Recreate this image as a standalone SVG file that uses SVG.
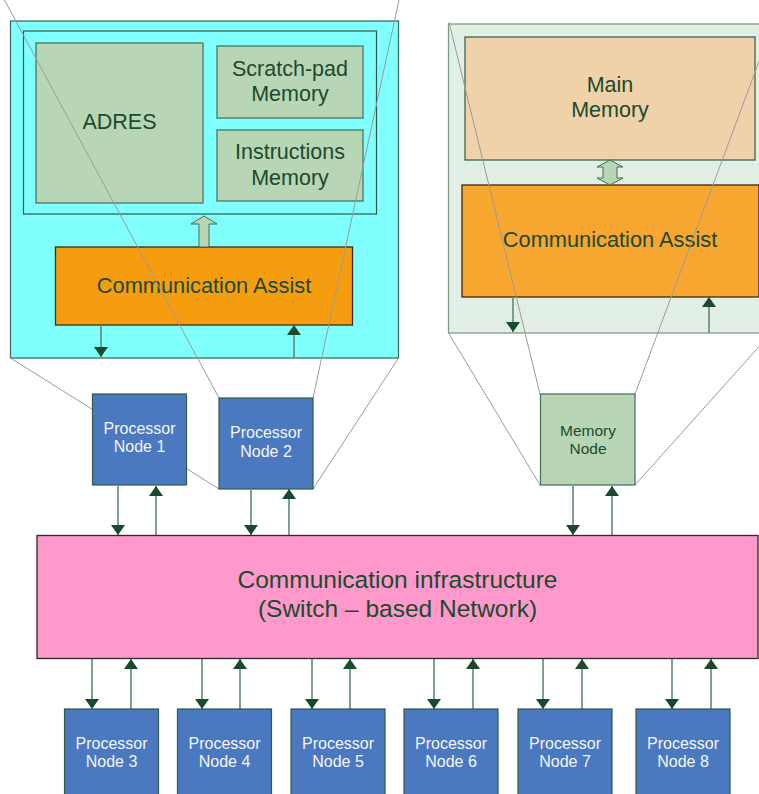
<svg xmlns="http://www.w3.org/2000/svg" width="759" height="794" viewBox="0 0 759 794">
<style>
text{font-family:"Liberation Sans",Arial,sans-serif;text-anchor:middle;fill:#1b4a2c}
.w{fill:#f4f6fb;font-size:16px}
.m{font-size:21.5px}
.g{fill:#b8d6b6;stroke:#3d6e55;stroke-width:1.2}
.p{fill:#4a79c0;stroke:#2f5a45;stroke-width:1.2}
.ca{stroke:#3a2a10;stroke-width:1.3}
.proj{stroke:#9a9a9a;stroke-width:1;fill:none}
.sh{stroke:#5f8a73;stroke-width:1.6}
</style>
<defs>
<marker id="ah" viewBox="0 0 10 14" refX="10" refY="7" markerWidth="10" markerHeight="14" markerUnits="userSpaceOnUse" orient="auto">
<path d="M0,0 L10,7 L0,14 Z" fill="#1a4a2c"/>
</marker>
<pattern id="grid" width="4" height="4" patternUnits="userSpaceOnUse">
<rect width="4" height="4" fill="#e4f0e6"/>
<path d="M0,0H4M0,0V4" stroke="#d6e6d8" stroke-width="0.6"/>
</pattern>
</defs>

<g id="processor-zoom">
<rect x="10.5" y="21" width="388" height="337" fill="#80ffff" stroke="#3d6e62" stroke-width="1.3"/>
<rect x="23.5" y="31" width="353" height="183" fill="none" stroke="#2f5a45" stroke-width="1.2"/>
</g>
<g id="adres">
<rect class="g" x="36" y="43" width="167" height="160"/>
<text class="m" x="119.5" y="129">ADRES</text>
</g>
<g id="scratchpad">
<rect class="g" x="217" y="46" width="146" height="72"/>
<text class="m" x="290" y="76">Scratch-pad</text>
<text class="m" x="290" y="101">Memory</text>
</g>
<g id="instructions">
<rect class="g" x="217" y="130" width="146" height="71"/>
<text class="m" x="290" y="159">Instructions</text>
<text class="m" x="290" y="185">Memory</text>
</g>
<g id="comm-assist-1">
<rect class="ca" x="55.5" y="247" width="297" height="78" fill="#f59d0e"/>
<text x="204" y="293" font-size="21.8">Communication Assist</text>
</g>

<g id="memory-zoom">
<rect x="448.5" y="24" width="315" height="309" fill="url(#grid)" stroke="#7f9a88" stroke-width="1.3"/>
</g>
<g id="main-memory">
<rect x="465" y="37" width="290" height="123" fill="#efd2aa" stroke="#2f5a45" stroke-width="1.2"/>
<text class="m" x="610" y="92">Main</text>
<text class="m" x="610" y="117">Memory</text>
</g>
<g id="comm-assist-2">
<rect class="ca" x="462" y="185" width="297" height="112" fill="#f7a630"/>
<text x="610" y="247" font-size="21.8">Communication Assist</text>
</g>

<g id="connectors">
<path class="proj" d="M4.5,0 L219,398 M399,0 L313,398 M10.5,358 L219,489 M398.5,358 L313,489"/>
<path class="proj" d="M449,22 L540,394 M767,40 L635,394 M448.5,333 L540,485 M765,340 L635,485"/>
<path d="M199,247 V224 H191 L204,216 L217,224 H209 V247 Z" fill="#b8d6b6" stroke="#3d6e55" stroke-width="1"/>
<path d="M610,160 L623,167 H617 V178 H623 L610,185 L597,178 H603 V167 H597 Z" fill="#b8d6b6" stroke="#3d6e55" stroke-width="1"/>
<line class="sh" x1="101" y1="325" x2="101" y2="357" marker-end="url(#ah)"/>
<line class="sh" x1="294" y1="358" x2="294" y2="325" marker-end="url(#ah)"/>
<line class="sh" x1="513" y1="297" x2="513" y2="332" marker-end="url(#ah)"/>
<line class="sh" x1="709" y1="333" x2="709" y2="297" marker-end="url(#ah)"/>
<line class="sh" x1="118" y1="486" x2="118" y2="535" marker-end="url(#ah)"/>
<line class="sh" x1="156" y1="535" x2="156" y2="486" marker-end="url(#ah)"/>
<line class="sh" x1="251" y1="490" x2="251" y2="535" marker-end="url(#ah)"/>
<line class="sh" x1="289" y1="535" x2="289" y2="489" marker-end="url(#ah)"/>
<line class="sh" x1="573" y1="486" x2="573" y2="535" marker-end="url(#ah)"/>
<line class="sh" x1="612" y1="535" x2="612" y2="486" marker-end="url(#ah)"/>
<line class="sh" x1="92" y1="659" x2="92" y2="709" marker-end="url(#ah)"/>
<line class="sh" x1="131" y1="709" x2="131" y2="659" marker-end="url(#ah)"/>
<line class="sh" x1="202" y1="659" x2="202" y2="709" marker-end="url(#ah)"/>
<line class="sh" x1="240" y1="709" x2="240" y2="659" marker-end="url(#ah)"/>
<line class="sh" x1="312" y1="659" x2="312" y2="709" marker-end="url(#ah)"/>
<line class="sh" x1="350" y1="709" x2="350" y2="659" marker-end="url(#ah)"/>
<line class="sh" x1="434" y1="659" x2="434" y2="709" marker-end="url(#ah)"/>
<line class="sh" x1="473" y1="709" x2="473" y2="659" marker-end="url(#ah)"/>
<line class="sh" x1="543" y1="659" x2="543" y2="709" marker-end="url(#ah)"/>
<line class="sh" x1="582" y1="709" x2="582" y2="659" marker-end="url(#ah)"/>
<line class="sh" x1="672" y1="659" x2="672" y2="709" marker-end="url(#ah)"/>
<line class="sh" x1="711" y1="709" x2="711" y2="659" marker-end="url(#ah)"/>
</g>

<g id="processor-node-1">
<rect class="p" x="92.5" y="394" width="94" height="91"/>
<text class="w" x="139.5" y="434">Processor</text>
<text class="w" x="139.5" y="452">Node 1</text>
</g>
<g id="processor-node-2">
<rect class="p" x="219" y="398" width="94" height="91"/>
<text class="w" x="266" y="438">Processor</text>
<text class="w" x="266" y="457">Node 2</text>
</g>
<g id="memory-node">
<rect class="g" x="540.5" y="394" width="94.5" height="91"/>
<text x="588" y="436" font-size="15.5">Memory</text>
<text x="588" y="454" font-size="15.5">Node</text>
</g>

<g id="network">
<rect x="37" y="535.5" width="721" height="123" fill="#ff99cc" stroke="#2a2a2a" stroke-width="1.3"/>
<text x="397.5" y="588" font-size="24.5">Communication infrastructure</text>
<text x="397.5" y="617" font-size="24.5">(Switch – based Network)</text>
</g>

<g id="processor-node-3">
<rect class="p" x="64.5" y="709" width="94" height="90"/>
<text class="w" x="111.5" y="749">Processor</text>
<text class="w" x="111.5" y="767">Node 3</text>
</g>
<g id="processor-node-4">
<rect class="p" x="177.5" y="709" width="94" height="90"/>
<text class="w" x="224.5" y="749">Processor</text>
<text class="w" x="224.5" y="767">Node 4</text>
</g>
<g id="processor-node-5">
<rect class="p" x="291" y="709" width="94" height="90"/>
<text class="w" x="338" y="749">Processor</text>
<text class="w" x="338" y="767">Node 5</text>
</g>
<g id="processor-node-6">
<rect class="p" x="404" y="709" width="94" height="90"/>
<text class="w" x="451" y="749">Processor</text>
<text class="w" x="451" y="767">Node 6</text>
</g>
<g id="processor-node-7">
<rect class="p" x="518" y="709" width="94" height="90"/>
<text class="w" x="565" y="749">Processor</text>
<text class="w" x="565" y="767">Node 7</text>
</g>
<g id="processor-node-8">
<rect class="p" x="636" y="709" width="94" height="90"/>
<text class="w" x="683" y="749">Processor</text>
<text class="w" x="683" y="767">Node 8</text>
</g>
</svg>
